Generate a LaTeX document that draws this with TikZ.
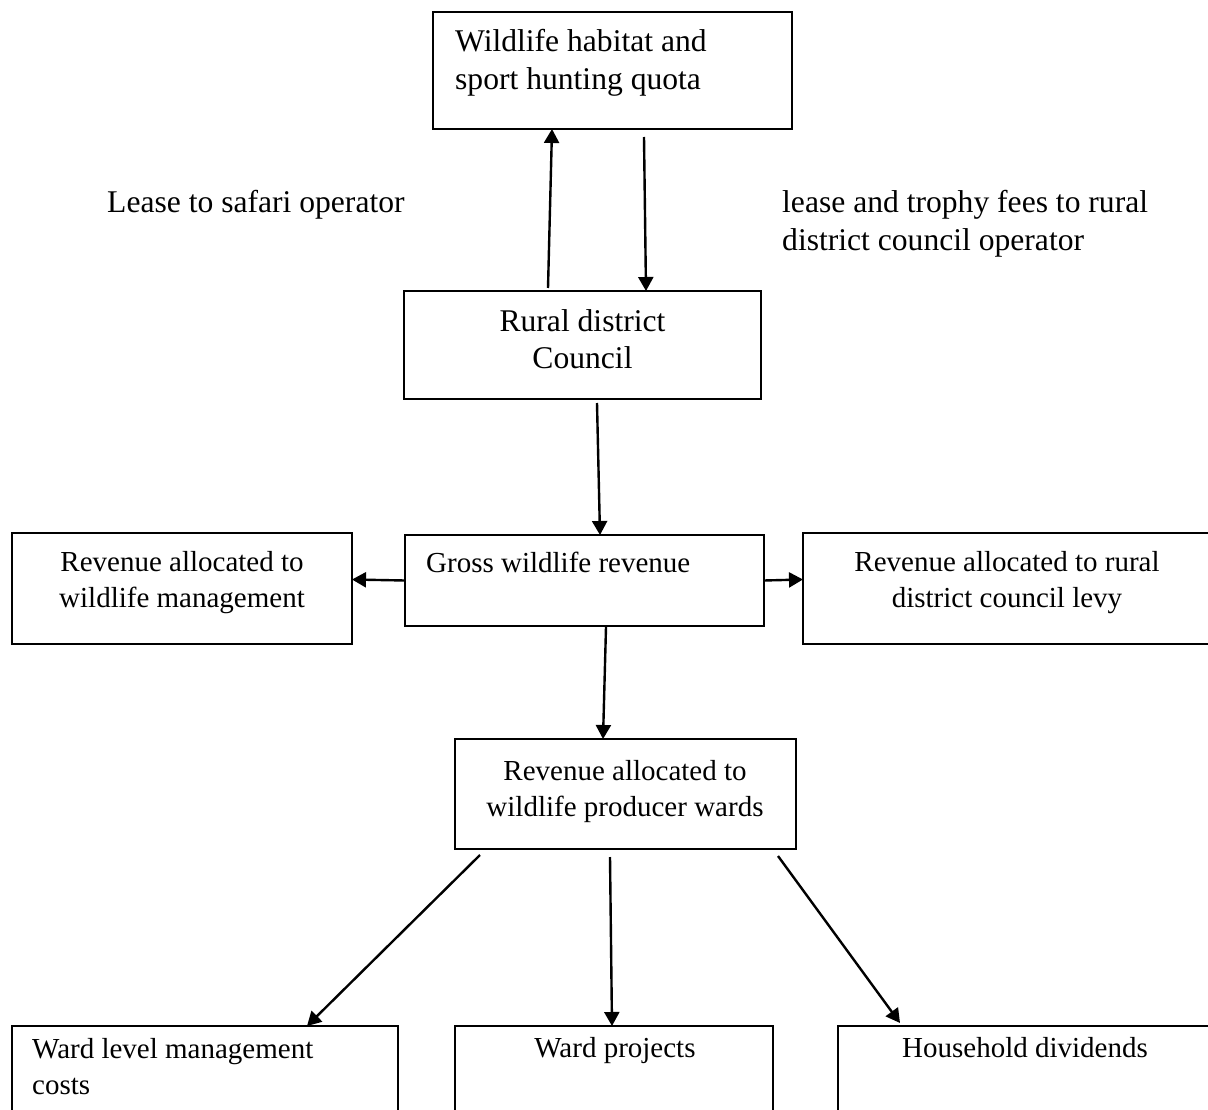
\documentclass[tikz,border=0pt]{standalone}
\usepackage{fontspec}
\setmainfont{Liberation Serif}
\usetikzlibrary{arrows.meta}
% two-line text blocks whose baseline is the first line
\newcommand\stackL[2]{\vtop{\halign{##\hfil\cr #1\cr #2\cr}}}
\newcommand\stackC[2]{\vtop{\halign{\hfil##\hfil\cr #1\cr #2\cr}}}
\begin{document}
\begin{tikzpicture}[x=1pt,y=-1pt,
  box/.style={draw, line width=2pt, inner sep=0pt, outer sep=0pt, anchor=north west},
  big/.style={inner sep=0pt, font=\fontsize{31.6}{37.5}\selectfont},
  small/.style={inner sep=0pt, font=\fontsize{29}{36.5}\selectfont},
  arr/.style={line width=2.4pt, -{Triangle[length=14pt,width=15pt]}}]
\useasboundingbox (0,0) rectangle (1208,1110);
\clip (0,0) rectangle (1208,1110);

% boxes
\node[box, minimum width=359pt, minimum height=117pt] (habitat) at (433,12) {};
\node[box, minimum width=357pt, minimum height=108pt] (council) at (404,291) {};
\node[box, minimum width=359pt, minimum height=91pt]  (gross)   at (405,535) {};
\node[box, minimum width=340pt, minimum height=111pt] (wmgmt)   at (12,533) {};
\node[box, minimum width=420pt, minimum height=111pt] (levy)    at (803,533) {};
\node[box, minimum width=341pt, minimum height=110pt] (wards)   at (455,739) {};
\node[box, minimum width=386pt, minimum height=140pt] (wlmc)    at (12,1026) {};
\node[box, minimum width=318pt, minimum height=140pt] (projects) at (455,1026) {};
\node[box, minimum width=400pt, minimum height=140pt] (dividends) at (838,1026) {};

% texts
\node[big, anchor=base west] (thabitat) at (455,52) {\stackL{Wildlife habitat and}{sport hunting quota}};
\node[big, anchor=base west] (tlease) at (107,213) {Lease to safari operator};
\node[big, anchor=base west] (tfees) at (782,213) {\stackL{lease and trophy fees to rural}{district council operator}};
\node[big, anchor=base] (tcouncil) at (582.5,331) {\stackC{Rural district}{Council}};
\node[small, anchor=base west] (tgross) at (426,572) {Gross wildlife revenue};
\node[small, anchor=base] (twmgmt) at (182,571) {\stackC{Revenue allocated to}{wildlife management}};
\node[small, anchor=base] (tlevy) at (1007,571) {\stackC{Revenue allocated to rural}{district council levy}};
\node[small, anchor=base] (twards) at (625,780) {\stackC{Revenue allocated to}{wildlife producer wards}};
\node[small, anchor=base west] (twlmc) at (32,1058) {\stackL{Ward level management}{costs}};
\node[small, anchor=base] (tprojects) at (615,1057) {Ward projects};
\node[small, anchor=base] (tdividends) at (1025,1057) {Household dividends};

% connectors
\draw[arr] ([xshift=144pt,yshift=3pt]council.north west) -- ([xshift=119pt]habitat.south west);
\draw[arr] ([xshift=211pt,yshift=-8pt]habitat.south west) -- ([xshift=242pt]council.north west);
\draw[arr] ([xshift=193pt,yshift=-4pt]council.south west) -- ([xshift=195pt]gross.north west);
\draw[arr] (gross.west) -- ([yshift=9pt]wmgmt.east);
\draw[arr] (gross.east) -- ([yshift=9pt]levy.west);
\draw[arr] ([xshift=201pt,yshift=-1pt]gross.south west) -- ([xshift=148pt]wards.north west);
\draw[arr] ([xshift=25pt,yshift=-6pt]wards.south west) -- ([xshift=295pt]wlmc.north west);
\draw[arr] ([xshift=155pt,yshift=-8pt]wards.south west) -- ([xshift=157pt]projects.north west);
\draw[arr] ([xshift=323pt,yshift=-7pt]wards.south west) -- ([xshift=62pt,yshift=3pt]dividends.north west);
\end{tikzpicture}
\end{document}
